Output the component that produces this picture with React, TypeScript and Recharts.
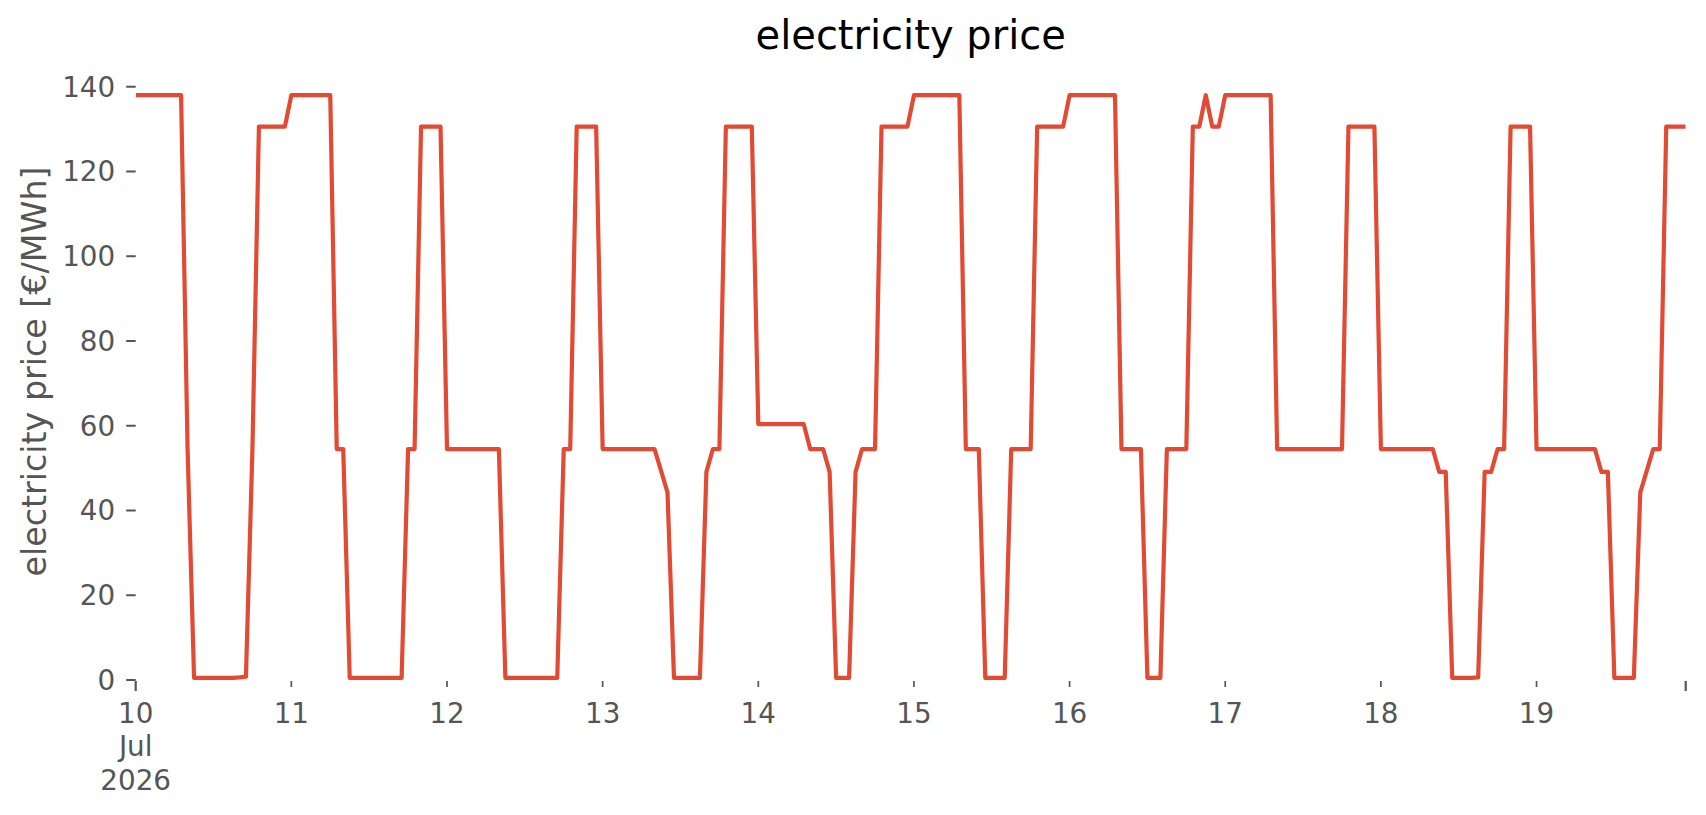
import React from "react";
import { LineChart, Line, XAxis, YAxis } from "recharts";

// Hourly electricity prices [€/MWh], one array per day (00:00 .. 23:00)
const day10 = [138, 138, 138, 138, 138, 138, 138, 138, 54.5, 0.5, 0.5, 0.5, 0.5, 0.5, 0.5, 0.5, 0.6, 0.8, 54.5, 130.6, 130.6, 130.6, 130.6, 130.6];
const day11 = [138, 138, 138, 138, 138, 138, 138, 54.5, 54.5, 0.5, 0.5, 0.5, 0.5, 0.5, 0.5, 0.5, 0.5, 0.5, 54.5, 54.5, 130.6, 130.6, 130.6, 130.6];
const day12 = [54.5, 54.5, 54.5, 54.5, 54.5, 54.5, 54.5, 54.5, 54.5, 0.5, 0.5, 0.5, 0.5, 0.5, 0.5, 0.5, 0.5, 0.5, 54.5, 54.5, 130.6, 130.6, 130.6, 130.6];
const day13 = [54.5, 54.5, 54.5, 54.5, 54.5, 54.5, 54.5, 54.5, 54.5, 49.4, 44.3, 0.5, 0.5, 0.5, 0.5, 0.5, 49.1, 54.5, 54.5, 130.6, 130.6, 130.6, 130.6, 130.6];
const day14 = [60.4, 60.4, 60.4, 60.4, 60.4, 60.4, 60.4, 60.4, 54.5, 54.5, 54.5, 49.1, 0.5, 0.5, 0.5, 49.1, 54.5, 54.5, 54.5, 130.6, 130.6, 130.6, 130.6, 130.6];
const day15 = [138, 138, 138, 138, 138, 138, 138, 138, 54.5, 54.5, 54.5, 0.5, 0.5, 0.5, 0.5, 54.5, 54.5, 54.5, 54.5, 130.6, 130.6, 130.6, 130.6, 130.6];
const day16 = [138, 138, 138, 138, 138, 138, 138, 138, 54.5, 54.5, 54.5, 54.5, 0.5, 0.5, 0.5, 54.5, 54.5, 54.5, 54.5, 130.6, 130.6, 138, 130.6, 130.6];
const day17 = [138, 138, 138, 138, 138, 138, 138, 138, 54.5, 54.5, 54.5, 54.5, 54.5, 54.5, 54.5, 54.5, 54.5, 54.5, 54.5, 130.6, 130.6, 130.6, 130.6, 130.6];
const day18 = [54.5, 54.5, 54.5, 54.5, 54.5, 54.5, 54.5, 54.5, 54.5, 49.1, 49.1, 0.5, 0.5, 0.5, 0.5, 0.6, 49.1, 49.1, 54.5, 54.5, 130.6, 130.6, 130.6, 130.6];
const day19 = [54.5, 54.5, 54.5, 54.5, 54.5, 54.5, 54.5, 54.5, 54.5, 54.5, 49.1, 49.1, 0.5, 0.5, 0.5, 0.5, 44.3, 49.4, 54.5, 54.5, 130.6, 130.6, 130.6, 130.6];

const days = [day10, day11, day12, day13, day14, day15, day16, day17, day18, day19];

// x ticks: hour offsets from 2026-07-10 00:00 and their labels
const xTickHours = [0, 24, 48, 72, 96, 120, 144, 168, 192, 216, 239];
const xTickLabels = ["10\nJul\n2026", "11", "12", "13", "14", "15", "16", "17", "18", "19", ""];
const xMajorTicks = [0, 239];

const yTicks = [0, 20, 40, 60, 80, 100, 120, 140];

const data = days.flatMap((d, di) => d.map((v, h) => ({ t: di * 24 + h, price: v })));

const FONT = "DejaVu Sans";
const GREY = "#555555";

const XTick = (props: any) => {
  const { x, y, payload } = props;
  const idx = xTickHours.indexOf(payload.value);
  const label = idx >= 0 ? xTickLabels[idx] : "";
  const major = xMajorTicks.includes(payload.value);
  const lines = label ? label.split("\n") : [];
  return (
    <g>
      <line
        x1={x}
        x2={x}
        y1={y + 1}
        y2={y + 1 + (major ? 10 : 6)}
        stroke={GREY}
        strokeWidth={major ? 2.2 : 1.7}
      />
      {lines.map((l, i) => (
        <text
          key={i}
          x={x}
          y={y + 43 + i * 33.4}
          textAnchor="middle"
          fontSize={27.8}
          fill={GREY}
          fontFamily={FONT}
        >
          {l}
        </text>
      ))}
    </g>
  );
};

export default function App() {
  const W = 1706;
  const H = 815;
  return (
    <div style={{ position: "absolute", left: 0, top: 0, width: W, height: H, background: "#ffffff" }}>
      <LineChart
        width={W}
        height={H}
        data={data}
        margin={{ top: 63, right: 20.3, bottom: 75, left: 0 }}
      >
        <XAxis
          dataKey="t"
          type="number"
          domain={[0, 239]}
          ticks={xTickHours}
          interval={0}
          tick={<XTick />}
          tickLine={false}
          axisLine={false}
          tickSize={0}
          tickMargin={0}
          height={60}
          allowDataOverflow
        />
        <YAxis
          type="number"
          domain={[0, 145.6]}
          ticks={yTicks}
          interval={0}
          width={135.7}
          axisLine={false}
          tickSize={9.5}
          tickMargin={11}
          tickLine={{ stroke: GREY, strokeWidth: 2 }}
          tick={{ fill: GREY, fontSize: 27.8, fontFamily: FONT }}
          allowDataOverflow
        />
        <Line
          type="linear"
          dataKey="price"
          stroke="#E24A33"
          strokeWidth={4.2}
          strokeLinejoin="round"
          dot={false}
          activeDot={false}
          isAnimationActive={false}
        />
      </LineChart>
      <svg
        width={W}
        height={H}
        style={{ position: "absolute", left: 0, top: 0, pointerEvents: "none" }}
      >
        <text
          x={910.7}
          y={49}
          textAnchor="middle"
          fontSize={40}
          fill="#000000"
          fontFamily={FONT}
        >
          electricity price
        </text>
        <text
          x={45.5}
          y={371.5}
          transform="rotate(-90 45.5 371.5)"
          textAnchor="middle"
          fontSize={33.3}
          fill={GREY}
          fontFamily={FONT}
        >
          electricity price [€/MWh]
        </text>
      </svg>
    </div>
  );
}
